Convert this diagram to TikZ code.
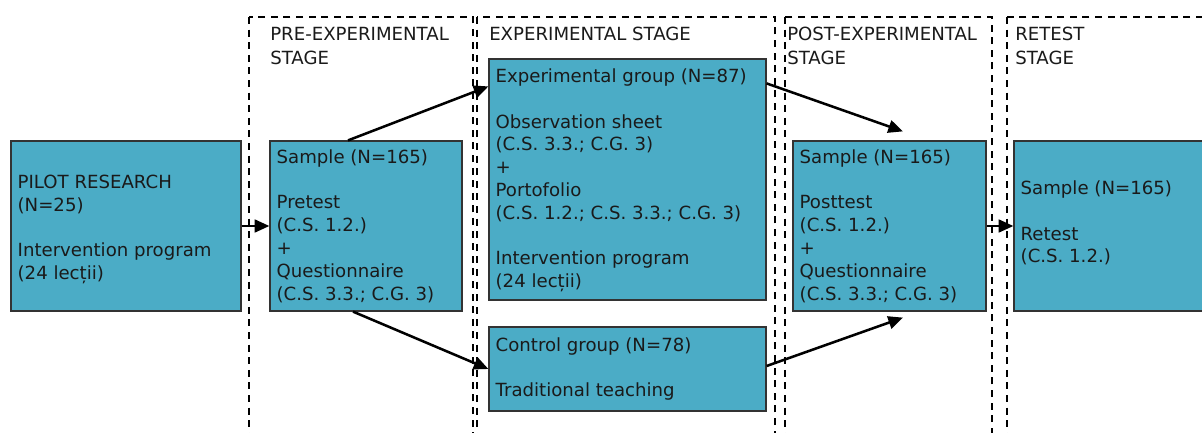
\documentclass[tikz,border=0pt]{standalone}
\usepackage{fontspec}
\setmainfont{DejaVu Sans}
\usetikzlibrary{arrows.meta}
\definecolor{boxfill}{HTML}{4BACC6}
\definecolor{boxline}{HTML}{333333}
\definecolor{ink}{HTML}{1A1A1A}
\newcommand\blankline{\\[17.1pt]}

\begin{document}
\begin{tikzpicture}[x=0.75pt,y=-0.75pt,
  stage/.style={draw=black, line width=1.9pt, dash pattern=on 5.25pt off 4.2pt},
  stagelabel/.style={anchor=base west, inner sep=0pt, align=left, text=ink,
    font=\fontsize{13.6}{17.5}\selectfont},
  box/.style={draw=boxline, line width=0.9pt, fill=boxfill, inner sep=0pt},
  boxtext/.style={anchor=west, inner sep=0pt, align=left, text=ink,
    font=\fontsize{13.6}{17.1}\selectfont},
  link/.style={draw=black, line width=1.9pt, -{Triangle[length=11pt,width=9.5pt]}}
]
\useasboundingbox (0,0) rectangle (1202,432);
\clip (0,0) rectangle (1202,432);

% stage frames (open at the bottom edge of the page)
\draw[stage] (249,17) rectangle (473,450);
\draw[stage] (477,17) rectangle (775,450);
\draw[stage] (785,17) rectangle (992,450);
\draw[stage] (1007,17) rectangle (1220,450);

% stage titles (two-line titles are placed by the baseline of their last line)
\node[stagelabel] (lpre)  at (270,64)   {PRE-EXPERIMENTAL\\STAGE};
\node[stagelabel] (lexp)  at (489,40.7) {EXPERIMENTAL STAGE};
\node[stagelabel] (lpost) at (787,64)   {POST-EXPERIMENTAL\\STAGE};
\node[stagelabel] (lret)  at (1015,64)  {RETEST\\STAGE};

% boxes
\node[box, minimum width=172.5pt, minimum height=127.5pt] (pilot) at (126,226) {};
\node[boxtext] (pilottxt) at ([xshift=5.25pt,yshift=-2.6pt]pilot.west)
  {PILOT RESEARCH\\(N=25)\blankline Intervention program\\(24 lecții)};

\node[box, minimum width=144pt, minimum height=127.5pt] (pre) at (366,226) {};
\node[boxtext] (pretxt) at ([xshift=5.25pt]pre.west)
  {Sample (N=165)\blankline Pretest\\(C.S. 1.2.)\\+\\Questionnaire\\(C.S. 3.3.; C.G. 3)};

\node[box, minimum width=207.75pt, minimum height=180.75pt] (exp) at (627.5,179.5) {};
\node[boxtext] (exptxt) at ([xshift=5.25pt,yshift=-0.6pt]exp.west)
  {Experimental group (N=87)\blankline Observation sheet\\(C.S. 3.3.; C.G. 3)\\+\\Portofolio\\(C.S. 1.2.; C.S. 3.3.; C.G. 3)\blankline Intervention program\\(24 lecții)};

\node[box, minimum width=207.75pt, minimum height=63pt] (ctrl) at (627.5,369) {};
\node[boxtext] (ctrltxt) at ([xshift=5.25pt]ctrl.west)
  {Control group (N=78)\blankline Traditional teaching};

\node[box, minimum width=144.75pt, minimum height=127.5pt] (post) at (889.5,226) {};
\node[boxtext] (posttxt) at ([xshift=5.25pt]post.west)
  {Sample (N=165)\blankline Posttest\\(C.S. 1.2.)\\+\\Questionnaire\\(C.S. 3.3.; C.G. 3)};

\node[box, minimum width=157.5pt, minimum height=127.5pt] (ret) at (1119,226) {};
\node[boxtext] (rettxt) at ([xshift=5.25pt,yshift=2.2pt]ret.west)
  {Sample (N=165)\blankline Retest\\(C.S. 1.2.)};

% connectors
\draw[link] (pilot.east) -- (pre.west);
\draw[link] ([xshift=-13.5pt]pre.north) -- ([yshift=-21pt]exp.north west);
\draw[link] ([xshift=-9.75pt]pre.south) -- (ctrl.west);
\draw[link] ([yshift=-18.75pt]exp.north east) -- ([xshift=10.125pt,yshift=6.75pt]post.north);
\draw[link] ([yshift=2.25pt]ctrl.east) -- ([xshift=10.125pt,yshift=-4.5pt]post.south);
\draw[link] (post.east) -- (ret.west);
\end{tikzpicture}
\end{document}
